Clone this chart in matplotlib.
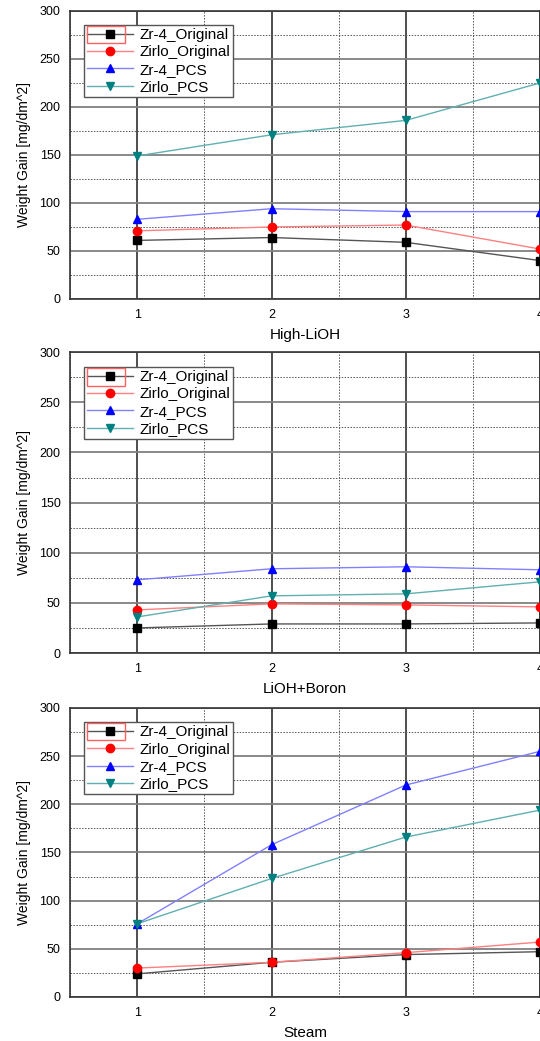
import numpy as np
import matplotlib.pyplot as plt
from matplotlib.ticker import MultipleLocator
from matplotlib.patches import Rectangle

plt.rcParams['font.family'] = ['Liberation Sans', 'DejaVu Sans']

# Données
x = [1, 2, 3, 4]
series = ['Zr-4_Original', 'Zirlo_Original', 'Zr-4_PCS', 'Zirlo_PCS']
conditions = ['High-LiOH', 'LiOH+Boron', 'Steam']

high_lioh = {
    'Zr-4_Original': [61, 64, 59, 40],
    'Zirlo_Original': [71, 75, 77, 52],
    'Zr-4_PCS': [83, 94, 91, 91],
    'Zirlo_PCS': [149, 171, 186, 225],
}
lioh_boron = {
    'Zr-4_Original': [25, 29, 29, 30],
    'Zirlo_Original': [43, 49, 48, 46],
    'Zr-4_PCS': [73, 84, 86, 83],
    'Zirlo_PCS': [36, 57, 59, 71],
}
steam = {
    'Zr-4_Original': [24, 36, 44, 47],
    'Zirlo_Original': [30, 36, 46, 57],
    'Zr-4_PCS': [76, 158, 220, 255],
    'Zirlo_PCS': [76, 123, 166, 194],
}
data = [high_lioh, lioh_boron, steam]

# styles
marker_col = {'Zr-4_Original': 'black', 'Zirlo_Original': 'red',
              'Zr-4_PCS': 'blue', 'Zirlo_PCS': '#008080'}
line_col = {'Zr-4_Original': '#555555', 'Zirlo_Original': '#ff8080',
            'Zr-4_PCS': '#8080ff', 'Zirlo_PCS': '#60b0b0'}
markers = {'Zr-4_Original': 's', 'Zirlo_Original': 'o',
           'Zr-4_PCS': '^', 'Zirlo_PCS': 'v'}

fig = plt.figure(figsize=(5.4, 10.41), dpi=100)
positions = [
    [0.13, 0.7128, 0.87, 0.2767],
    [0.13, 0.3727, 0.87, 0.2890],
    [0.13, 0.0423, 0.87, 0.2776],
]

for pos, cond, d in zip(positions, conditions, data):
    ax = fig.add_axes(pos)
    for s in series:
        ax.plot(x, d[s], color=line_col[s], lw=1.0, marker=markers[s],
                markersize=6, markerfacecolor=marker_col[s],
                markeredgecolor=marker_col[s], label=s, clip_on=False, zorder=3)
    ax.set_xlim(0.5, 4.0)
    ax.set_ylim(0, 300)
    ax.xaxis.set_major_locator(MultipleLocator(1))
    ax.xaxis.set_minor_locator(MultipleLocator(0.5))
    ax.yaxis.set_major_locator(MultipleLocator(50))
    ax.yaxis.set_minor_locator(MultipleLocator(25))
    ax.grid(which='major', axis='x', color='#404040', lw=1.3, ls='-')
    ax.grid(which='major', axis='y', color='#808080', lw=1.3, ls='-')
    ax.grid(which='minor', color='#555555', lw=0.7, ls=(0, (1.5, 1.5)))
    ax.set_axisbelow(True)
    ax.tick_params(which='both', length=0, labelsize=9, pad=7)
    for sp in ax.spines.values():
        sp.set_linewidth(1.2)
        sp.set_color('#333333')
    ax.set_xlabel(cond, fontsize=11, labelpad=5)
    ax.set_ylabel('Weight Gain [mg/dm^2]', fontsize=10, labelpad=6)
    leg = ax.legend(loc='upper left', bbox_to_anchor=(0.03, 0.951),
                    fontsize=11, handlelength=3.0, labelspacing=0.22,
                    borderpad=0.2, handletextpad=0.4, fancybox=False,
                    framealpha=1, edgecolor='#555555', borderaxespad=0)
    leg.get_frame().set_linewidth(1.0)
    # cadre rouge autour de la première entrée (comme sur l'original)
    ax.add_patch(Rectangle((0.036, 0.889), 0.081, 0.059, transform=ax.transAxes,
                           fill=False, edgecolor='#ff6060', lw=1.0, zorder=10))

fig.savefig('out.png', dpi=100)
